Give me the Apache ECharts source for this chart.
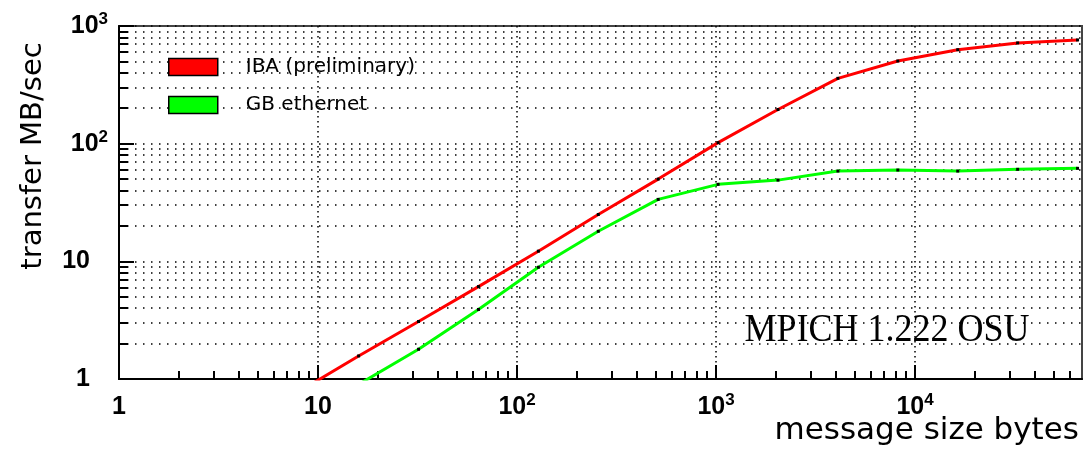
<!DOCTYPE html>
<html>
<head>
<meta charset="utf-8">
<title>IBA vs GB ethernet transfer rate</title>
<script src="https://cdn.jsdelivr.net/npm/echarts@6.0.0/dist/echarts.min.js"></script>
<style>
  html, body { margin: 0; padding: 0; background: #fff; }
  #main { width: 1085px; height: 449px; }
</style>
</head>
<body>
<div id="main"></div>
<script>
var msgSize = [8, 16, 32, 64, 128, 256, 512, 1024, 2048, 4096, 8192, 16384, 32768, 65536];
var ibaRate = [0.78, 1.57, 3.08, 6.1, 12.2, 25, 50, 102, 195, 359, 504, 629, 718, 761];
var gbeRate = [null, 0.9, 1.79, 3.9, 8.9, 18, 33.6, 45.1, 49, 58.5, 59.7, 58.5, 60.5, 61.7];

var xMajor = [1, 10, 100, 1000, 10000];
var xMinor = [2, 3, 4, 5, 6, 7, 8, 9, 20, 30, 40, 50, 60, 70, 80, 90,
              200, 300, 400, 500, 600, 700, 800, 900, 2000, 3000, 4000, 5000, 6000, 7000, 8000, 9000,
              20000, 30000, 40000, 50000, 60000];
var yMajor = [1, 10, 100, 1000];
var yMinor = [2, 3, 4, 5, 6, 7, 8, 9, 20, 30, 40, 50, 60, 70, 80, 90,
              200, 300, 400, 500, 600, 700, 800, 900];

var chart = echarts.init(document.getElementById('main'));

var numFont = 'Liberation Sans';
var txtFont = 'DejaVu Sans';

function pairs(ys) {
  return msgSize.map(function (x, i) { return [x, ys[i]]; });
}

function powLabel(v, pad) {
  var e = Math.round(Math.log10(v));
  if (e < 2) return '{b|' + Math.round(v) + '}' + (pad ? '{p|}' : '');
  return '{b|10}{s|' + e + '}';
}

var rich = {
  b: { fontSize: 25, fontFamily: numFont, fontWeight: 'bold', color: '#000', lineHeight: 30 },
  s: { fontSize: 17, fontFamily: numFont, fontWeight: 'bold', color: '#000', lineHeight: 30, verticalAlign: 'top' },
  p: { width: 18 }
};

var dotH = { type: [1.5, 6.5], color: '#000', width: 1.5 };
var dotV = { type: [1.5, 3.5], color: '#000', width: 1.5 };
var tickStyle = { color: '#000', width: 2 };

var option = {
  animation: false,
  backgroundColor: '#fff',
  grid: {
    left: 119, top: 26, right: 3, bottom: 70,
    show: true, borderColor: '#444', borderWidth: 2, backgroundColor: '#fff'
  },
  legend: {
    orient: 'vertical',
    left: 163, top: 52,
    itemWidth: 49, itemHeight: 17, itemGap: 18,
    icon: 'rect',
    textStyle: { fontFamily: txtFont, fontSize: 20, color: '#000', padding: [0, 0, 0, 23] },
    data: [
      { name: 'IBA (preliminary)', itemStyle: { color: '#ff0000', borderColor: '#000', borderWidth: 1.5 } },
      { name: 'GB ethernet', itemStyle: { color: '#00ff00', borderColor: '#000', borderWidth: 1.5 } }
    ]
  },
  xAxis: [
    {
      type: 'log', min: 1, max: 69000, position: 'bottom',
      axisLine: { lineStyle: { color: '#000', width: 2 } },
      axisTick: { inside: true, length: 14, customValues: xMajor, lineStyle: tickStyle },
      axisLabel: { customValues: xMajor, margin: 13, formatter: function (v) { return powLabel(v, false); }, rich: rich },
      splitLine: { show: true, lineStyle: dotV }
    },
    {
      type: 'log', min: 1, max: 69000, position: 'bottom',
      axisLine: { show: false },
      axisTick: { inside: true, length: 8, customValues: xMinor, lineStyle: tickStyle },
      axisLabel: { show: false },
      splitLine: { show: false }
    }
  ],
  yAxis: [
    {
      type: 'log', min: 1, max: 1000, position: 'left',
      axisLine: { show: true, lineStyle: { color: '#000', width: 2 } },
      axisTick: { show: true, inside: true, length: 15, customValues: yMajor, lineStyle: tickStyle },
      axisLabel: { customValues: yMajor, margin: 11, formatter: function (v) { return powLabel(v, true); }, rich: rich },
      splitLine: { show: true, lineStyle: dotH }
    },
    {
      type: 'log', min: 1, max: 1000, position: 'left',
      axisLine: { show: false },
      axisTick: { show: true, inside: true, length: 9, customValues: yMinor, lineStyle: tickStyle },
      axisLabel: { show: false },
      splitLine: { show: true, lineStyle: dotH }
    }
  ],
  graphic: [
    {
      type: 'text', x: 33, y: 156, rotation: Math.PI / 2,
      style: { text: 'transfer MB/sec', fontFamily: txtFont, fontSize: 29, fill: '#000', textAlign: 'center', textVerticalAlign: 'middle' }
    },
    {
      type: 'text', x: 1079, y: 431,
      style: { text: 'message size bytes', fontFamily: txtFont, fontSize: 31, fill: '#000', textAlign: 'right', textVerticalAlign: 'middle' }
    },
    {
      type: 'text', x: 887, y: 330, scaleY: 1.12, z: 10,
      style: { text: 'MPICH 1.222 OSU', fontFamily: 'Liberation Serif', fontSize: 36, fill: '#000', textAlign: 'center', textVerticalAlign: 'middle' }
    }
  ],
  series: [
    {
      name: 'IBA (preliminary)', type: 'line', xAxisIndex: 0, yAxisIndex: 0,
      data: pairs(ibaRate),
      symbol: 'rect', symbolSize: 3,
      itemStyle: { color: '#000' },
      lineStyle: { color: '#ff0000', width: 3 },
      z: 5
    },
    {
      name: 'GB ethernet', type: 'line', xAxisIndex: 0, yAxisIndex: 0,
      data: pairs(gbeRate),
      symbol: 'rect', symbolSize: 3,
      itemStyle: { color: '#000' },
      lineStyle: { color: '#00ff00', width: 3 },
      z: 4
    }
  ]
};

chart.setOption(option);
</script>
</body>
</html>
